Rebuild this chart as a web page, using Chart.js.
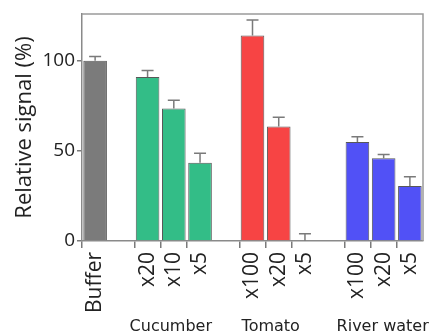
<!DOCTYPE html>
<html>
<head>
<meta charset="utf-8">
<script src="https://cdn.jsdelivr.net/npm/chart.js@4/dist/chart.umd.min.js"></script>
<style>
  html, body { margin: 0; padding: 0; background: #fff; }
  #wrap { width: 432px; height: 331px; position: relative; }
</style>
</head>
<body>
<div id="wrap"><canvas id="c" width="432" height="331"></canvas></div>
<script>
// Dilution series, with empty slots separating the sample groups
const categories = ['Buffer', '', 'x20', 'x10', 'x5', '', 'x100', 'x20', 'x5', '', 'x100', 'x20', 'x5'];
const signal     = [100, null, 91, 73.5, 43.5, null, 114, 63.5, 0, null, 55, 46, 30.5];
const errors     = [2.4, null, 3.6, 4.6, 5.2, null, 8.7, 5.2, 4, null, 2.8, 2, 5.2];
const barColors  = ['#7b7b7b', null, '#33bd87', '#33bd87', '#33bd87', null,
                    '#f74444', '#f74444', '#f74444', null, '#5151f6', '#5151f6', '#5151f6'];
const groupNames   = ['Cucumber', 'Tomato', 'River water'];
const groupCenters = [3, 7, 11];
const yTicks = [0, 50, 100];

const FONT = '"Open Sans", sans-serif';

// Error bars: stem up from the bar top with a short cap
const errorBars = {
  id: 'errorBars',
  afterDatasetsDraw(chart) {
    const { ctx, scales: { x, y } } = chart;
    ctx.save();
    ctx.strokeStyle = '#7a7a7a';
    ctx.lineWidth = 1.5;
    signal.forEach((v, i) => {
      if (v === null || errors[i] === null) return;
      const px = x.getPixelForValue(i);
      const y0 = y.getPixelForValue(v);
      const y1 = y.getPixelForValue(v + errors[i]);
      ctx.beginPath();
      ctx.moveTo(px, y0);
      ctx.lineTo(px, y1);
      ctx.moveTo(px - 6, y1);
      ctx.lineTo(px + 6, y1);
      ctx.stroke();
    });
    ctx.restore();
  }
};

// Frame around the plot area and group names under the dilution labels
const frameAndGroups = {
  id: 'frameAndGroups',
  afterDraw(chart) {
    const { ctx, chartArea: a, scales: { x } } = chart;
    ctx.save();
    ctx.strokeStyle = '#9a9a9a';
    ctx.lineWidth = 1.5;
    ctx.beginPath();
    ctx.moveTo(a.left, a.top);
    ctx.lineTo(a.right, a.top);
    ctx.lineTo(a.right, a.bottom);
    ctx.stroke();

    const shifts = [-3, -8, -1];
    ctx.fillStyle = '#222';
    ctx.font = '16px "DejaVu Sans", sans-serif';
    ctx.textAlign = 'center';
    ctx.textBaseline = 'alphabetic';
    groupNames.forEach((g, i) => {
      ctx.fillText(g, x.getPixelForValue(groupCenters[i]) + shifts[i], 331);
    });
    ctx.restore();
  }
};

function draw() {
  new Chart(document.getElementById('c'), {
    type: 'bar',
    data: {
      labels: categories,
      datasets: [{
        data: signal,
        backgroundColor: barColors,
        borderColor: '#585858',
        borderWidth: 1,
        barPercentage: 0.9,
        categoryPercentage: 1.0
      }]
    },
    options: {
      responsive: false,
      animation: false,
      devicePixelRatio: 1,
      layout: { padding: { left: 0, right: 9, top: 14, bottom: 0 } },
      plugins: { legend: { display: false }, tooltip: { enabled: false } },
      scales: {
        x: {
          offset: true,
          grid: {
            drawOnChartArea: false,
            tickLength: 7,
            lineWidth: 1.5,
            color: c => (categories[c.index] ? '#7a7a7a' : 'rgba(0,0,0,0)')
          },
          border: { color: '#8a8a8a', width: 1.5 },
          ticks: {
            autoSkip: false,
            minRotation: 90,
            maxRotation: 90,
            padding: 4,
            color: '#222',
            font: { family: FONT, size: 21 }
          },
          afterFit(s) {
            s.height = 90;
            s.paddingLeft = 0;
            s.paddingRight = 0;
          }
        },
        y: {
          min: 0,
          max: 126,
          afterBuildTicks(s) { s.ticks = yTicks.map(v => ({ value: v })); },
          grid: { drawOnChartArea: false, tickLength: 5, lineWidth: 1.5, color: '#7a7a7a' },
          border: { color: '#8a8a8a', width: 1.5 },
          ticks: { padding: 2, color: '#222', font: { family: FONT, size: 19 } },
          title: {
            display: true,
            text: 'Relative signal (%)',
            color: '#222',
            font: { family: FONT, size: 22 },
            padding: { top: 12, bottom: 0 }
          },
          afterFit(s) {
            s.width = 82;
            s.paddingTop = 0;
            s.paddingBottom = 0;
          }
        }
      }
    },
    plugins: [errorBars, frameAndGroups]
  });
}

Promise.all([
  document.fonts.load('19px "Open Sans"'),
  document.fonts.load('16px "DejaVu Sans"')
]).then(draw, draw);
</script>
</body>
</html>
